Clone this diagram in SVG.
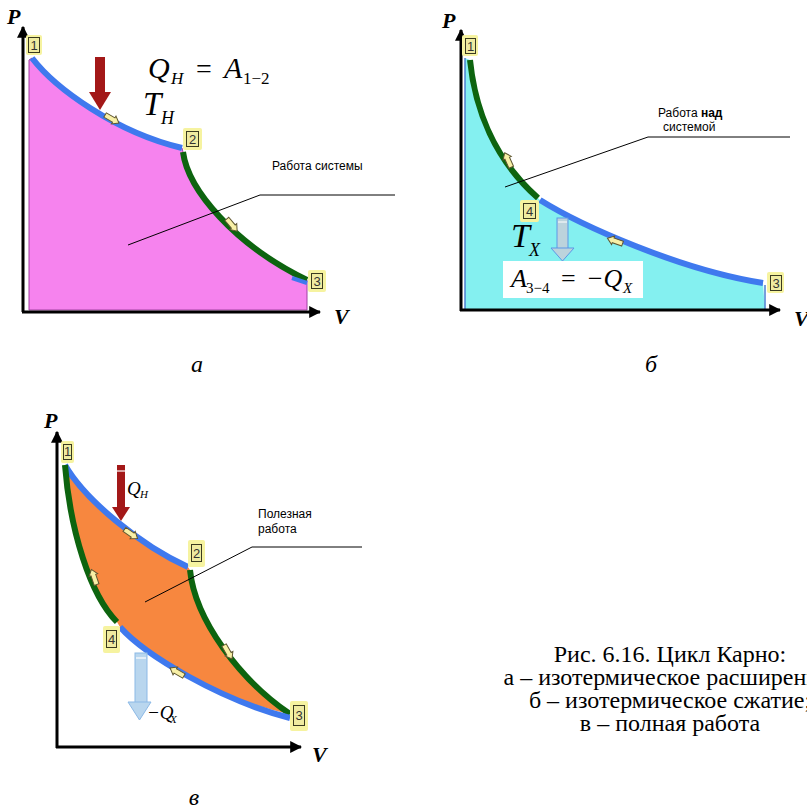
<svg xmlns="http://www.w3.org/2000/svg" width="807" height="810" viewBox="0 0 807 810">
<defs>
<marker id="ah" viewBox="0 0 10 10" refX="9" refY="5" markerWidth="4" markerHeight="4" orient="auto" markerUnits="strokeWidth"><path d="M0,0 L10,5 L0,10 Z" fill="#000"/></marker>
<path id="ya" d="M-8,-2.5 L2,-2.5 L2,-4.5 L8,0 L2,4.5 L2,2.5 L-8,2.5 Z"/>
</defs>
<style>
.axis{stroke:#000;stroke-width:3;fill:none}
.blue{stroke:#3f79ee;stroke-width:6;fill:none;stroke-linecap:butt}
.green{stroke:#0d640f;stroke-width:6;fill:none;stroke-linecap:butt}
.lead{stroke:#000;stroke-width:1;fill:none}
.glow{fill:#f6f3a0}
.box{fill:#efeba0;stroke:#3a3a20;stroke-width:1}
.num{font-family:"Liberation Sans",Arial,sans-serif;font-size:13px;fill:#333;text-anchor:middle}
.ax{font-family:"Liberation Serif","Times New Roman",serif;font-weight:bold;font-style:italic;font-size:22px;fill:#000}
.math{font-family:"Liberation Serif","Times New Roman",serif;fill:#000}
.it{font-style:italic}
.note{font-family:"Liberation Sans",Arial,sans-serif;font-size:12px;fill:#000}
.yarr{fill:#f8f0a6;stroke:#5e5630;stroke-width:1}
.cap{font-family:"Liberation Serif","Times New Roman",serif;font-size:24px;fill:#000;text-anchor:middle}
.plab{font-family:"Liberation Serif","Times New Roman",serif;font-style:italic;font-size:24px;fill:#000;text-anchor:middle}
</style>

<!-- Panel a -->
<g id="panel-a-fill">
<path d="M29,60 L32,58 C55,88 115,132 182,148 L183,152 C188,190 235,245 307,280 L307,310 L29,310 Z" fill="#f683ee" stroke="#a040a0" stroke-width="1"/>
</g>
<g id="panel-a-curves">
<path class="blue" d="M32,58 C55,88 115,132 182,148"/>
<path class="green" d="M183,152 C188,190 235,245 307,280"/>
<path d="M292,278 L307,283" stroke="#3f79ee" stroke-width="4"/>
<use href="#ya" class="yarr" transform="translate(112,119) rotate(30)"/>
<use href="#ya" class="yarr" transform="translate(232,225) rotate(50)"/>
</g>
<g id="panel-a-axes">
<line class="axis" x1="23" y1="312" x2="23" y2="27" marker-end="url(#ah)"/>
<line class="axis" x1="22" y1="312" x2="320" y2="312" marker-end="url(#ah)"/>
<text class="ax" x="7" y="24">P</text>
<text class="ax" x="334" y="324">V</text>
</g>
<g id="a-label-1"><rect class="glow" x="26" y="35" width="16" height="20" rx="2"/><rect class="box" x="28.5" y="37.5" width="11" height="15"/><text class="num" x="34" y="50">1</text></g>
<g id="a-label-2"><rect class="glow" x="183" y="128" width="19" height="22" rx="2"/><rect class="box" x="186.5" y="131.5" width="12" height="15"/><text class="num" x="192.5" y="144">2</text></g>
<g id="a-label-3"><rect class="glow" x="308" y="270" width="18" height="22" rx="2"/><rect class="box" x="311.5" y="273.5" width="11" height="15"/><text class="num" x="317" y="286">3</text></g>
<g id="a-heat-arrow">
<rect x="95" y="57" width="10" height="36" fill="#a31818"/>
<polygon points="89,92 111,92 100,110" fill="#a31818"/>
</g>
<g id="a-formula">
<text class="math it" x="148" y="78" font-size="30">Q</text>
<text class="math it" x="171" y="84" font-size="17">H</text>
<text class="math" x="196" y="78" font-size="28">=</text>
<text class="math it" x="224" y="78" font-size="30">A</text>
<text class="math" x="243" y="84" font-size="17">1−2</text>
<text class="math it" x="143" y="115" font-size="33">T</text>
<text class="math it" x="161" y="124" font-size="18">H</text>
</g>
<g id="a-note">
<text class="note" x="272" y="170">Работа системы</text>
<polyline class="lead" points="128,245 260,195 395,195"/>
</g>
<text class="plab" x="197" y="372">а</text>

<!-- Panel b -->
<g id="panel-b-fill">
<path d="M465,58 L470,60 C475,110 495,160 538,198 L540,200 C580,225 680,270 763,283 L765,310 L465,310 Z" fill="#84f0f0"/>
<line x1="465" y1="58" x2="465" y2="310" stroke="#4a7fd0" stroke-width="1.5"/>
<line x1="765" y1="285" x2="765" y2="310" stroke="#4a7fd0" stroke-width="1.5"/>
</g>
<g id="panel-b-curves">
<path class="green" d="M470,60 C475,110 495,160 538,198"/>
<path class="blue" d="M540,200 C580,225 680,270 763,283"/>
<use href="#ya" class="yarr" transform="translate(508,160) rotate(-114)"/>
<use href="#ya" class="yarr" transform="translate(615,241) rotate(-160)"/>
</g>
<g id="panel-b-axes">
<line class="axis" x1="461" y1="311" x2="461" y2="30" marker-end="url(#ah)"/>
<line class="axis" x1="460" y1="310" x2="780" y2="310" marker-end="url(#ah)"/>
<text class="ax" x="442" y="28">P</text>
<text class="ax" x="794" y="326">V</text>
</g>
<g id="b-label-1"><rect class="glow" x="462" y="35" width="16" height="21" rx="2"/><rect class="box" x="465.5" y="38.5" width="10" height="15"/><text class="num" x="470.5" y="51">1</text></g>
<g id="b-label-4"><rect class="glow" x="520" y="200" width="19" height="22" rx="2"/><rect class="box" x="523.5" y="203.5" width="12" height="15"/><text class="num" x="529.5" y="216">4</text></g>
<g id="b-label-3"><rect class="glow" x="767" y="272" width="17" height="21" rx="2"/><rect class="box" x="770.5" y="275.5" width="11" height="15"/><text class="num" x="776" y="288">3</text></g>
<g id="b-cold-arrow">
<rect x="557" y="218" width="11" height="31" fill="#bcd3dc" stroke="#5c97e6" stroke-width="1"/>
<line x1="558" y1="222" x2="567" y2="222" stroke="#fff" stroke-width="1"/>
<polygon points="551,248 574,248 562.5,261" fill="#bcd3dc" stroke="#5c97e6" stroke-width="1"/>
</g>
<g id="b-formula">
<text class="math it" x="511" y="247" font-size="34">T</text>
<text class="math it" x="529" y="256" font-size="18">X</text>
<rect x="503" y="261" width="140" height="37" fill="#fff"/>
<text class="math it" x="511" y="287" font-size="26">A</text>
<text class="math" x="526" y="293" font-size="15">3−4</text>
<text class="math" x="561" y="287" font-size="26">=</text>
<text class="math it" x="586" y="287" font-size="26">−Q</text>
<text class="math it" x="623" y="293" font-size="15">X</text>
</g>
<g id="b-note">
<text class="note" x="658" y="117" font-size="11">Работа <tspan font-weight="bold">над</tspan></text>
<text class="note" x="663" y="131" font-size="11">системой</text>
<polyline class="lead" points="505,187 648,137 790,137"/>
</g>
<text class="plab" x="651" y="372">б</text>

<!-- Panel c -->
<g id="panel-c-fill">
<path d="M65,465 C85,500 140,545 188,567 L190,570 C195,620 240,680 290,714 C220,700 145,655 120,627 L117,622 C90,595 70,530 65,465 Z" fill="#f7873f"/>
</g>
<g id="panel-c-curves">
<path class="blue" d="M65,465 C85,500 140,545 188,567"/>
<path class="green" d="M190,570 C195,620 240,680 290,714"/>
<path class="green" d="M65,465 C70,530 90,595 117,622"/>
<path class="blue" d="M120,627 C145,655 220,700 290,718"/>
<use href="#ya" class="yarr" transform="translate(131,534) rotate(35)"/>
<use href="#ya" class="yarr" transform="translate(228,652) rotate(60)"/>
<use href="#ya" class="yarr" transform="translate(94,577) rotate(-109)"/>
<use href="#ya" class="yarr" transform="translate(177,672) rotate(-150)"/>
</g>
<g id="panel-c-axes">
<line class="axis" x1="57" y1="748" x2="57" y2="432" marker-end="url(#ah)"/>
<line class="axis" x1="56" y1="747" x2="301" y2="747" marker-end="url(#ah)"/>
<text class="ax" x="44" y="428" font-size="20">P</text>
<text class="ax" x="312" y="762" font-size="20">V</text>
</g>
<g id="c-label-1"><rect class="glow" x="61" y="441" width="13" height="22" rx="2"/><rect class="box" x="63.5" y="444.5" width="8" height="15"/><text class="num" x="67.5" y="456" font-size="11">1</text></g>
<g id="c-label-2"><rect class="glow" x="188" y="540" width="17" height="27" rx="2"/><rect class="box" x="191.5" y="544.5" width="10" height="17"/><text class="num" x="196.5" y="558">2</text></g>
<g id="c-label-4"><rect class="glow" x="103" y="626" width="17" height="27" rx="2"/><rect class="box" x="106.5" y="630.5" width="10" height="17"/><text class="num" x="111.5" y="644">4</text></g>
<g id="c-label-3"><rect class="glow" x="290" y="701" width="18" height="30" rx="2"/><rect class="box" x="293.5" y="705.5" width="11" height="20"/><text class="num" x="299" y="720">3</text></g>
<g id="c-heat-arrow">
<rect x="117" y="465" width="8" height="43" fill="#a31818"/>
<line x1="117" y1="471" x2="125" y2="471" stroke="#fff" stroke-width="1.2"/>
<polygon points="112,507 130,507 121,521" fill="#a31818"/>
<text class="math it" x="127" y="495" font-size="19" fill="#555">Q</text>
<text class="math it" x="140" y="498" font-size="11" fill="#555">H</text>
</g>
<g id="c-cold-arrow">
<rect x="135" y="653" width="12" height="50" fill="#b9d6ee" stroke="#8cb9e6" stroke-width="1"/>
<line x1="136" y1="658" x2="146" y2="658" stroke="#fff" stroke-width="1.2"/>
<polygon points="128,702 151,702 139.5,720" fill="#b9d6ee" stroke="#8cb9e6" stroke-width="1"/>
<text class="math it" x="147" y="719" font-size="19" fill="#555">−Q</text>
<text class="math it" x="170" y="723" font-size="11" fill="#555">X</text>
</g>
<g id="c-note">
<text class="note" x="258" y="518" font-size="12.5">Полезная</text>
<text class="note" x="258" y="533" font-size="12.5">работа</text>
<polyline class="lead" points="145,602 252,547 362,547"/>
</g>
<text class="plab" x="194" y="805">в</text>

<g id="caption">
<text class="cap" x="670" y="662">Рис. 6.16. Цикл Карно:</text>
<text class="cap" x="670" y="685">а – изотермическое расширение;</text>
<text class="cap" x="670" y="708">б – изотермическое сжатие;</text>
<text class="cap" x="670" y="731">в – полная работа</text>
</g>
</svg>
